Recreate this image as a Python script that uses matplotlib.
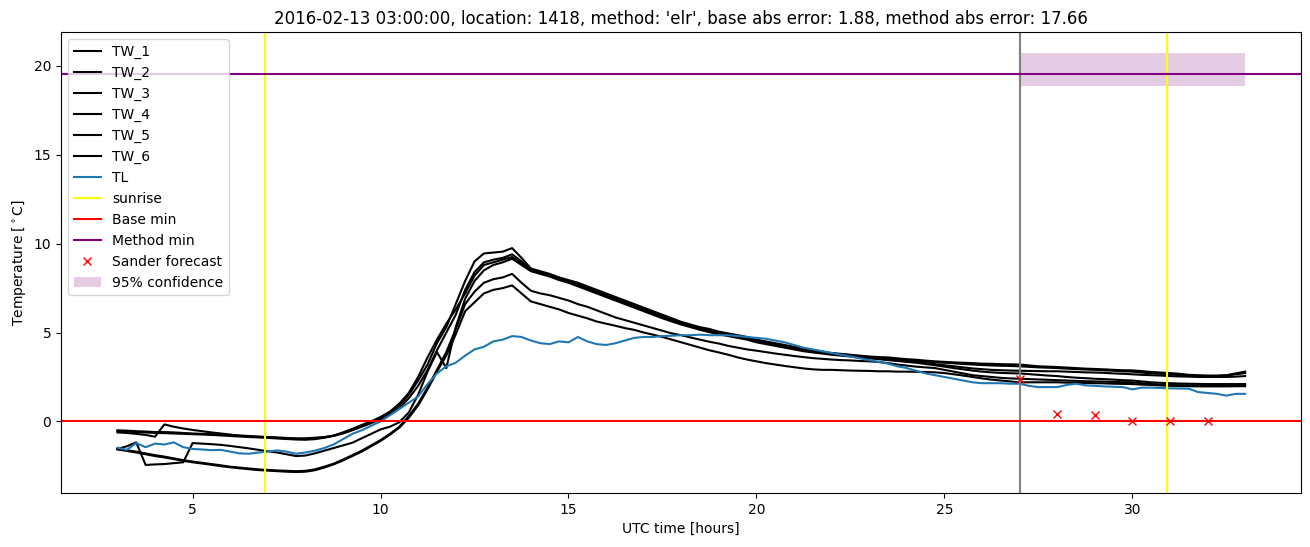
import numpy as np
import matplotlib
matplotlib.use('Agg')
import matplotlib.pyplot as plt

# time axis in hours (UTC), 15 minute steps from 03:00 to 33:00
hours = np.arange(3, 33.01, 0.25)

# wall temperatures, one row per hour (4 values each)
tw_1 = [-0.5, -0.52, -0.55, -0.57,
        -0.6, -0.6, -0.62, -0.65,
        -0.68, -0.7, -0.72, -0.74,
        -0.77, -0.8, -0.82, -0.85,
        -0.88, -0.9, -0.93, -0.95,
        -0.95, -0.92, -0.88, -0.8,
        -0.65, -0.45, -0.25, -0.05,
        0.2, 0.5, 0.9, 1.5,
        2.3, 3.2, 4.4, 5.3,
        6.6, 7.9, 9.0, 9.45,
        9.5, 9.55, 9.75, 9.2,
        8.6, 8.45, 8.3, 8.1,
        7.95, 7.8, 7.6, 7.4,
        7.2, 7.0, 6.8, 6.6,
        6.4, 6.2, 6.0, 5.8,
        5.6, 5.45, 5.3, 5.2,
        5.05, 4.95, 4.85, 4.75,
        4.6, 4.5, 4.4, 4.3,
        4.2, 4.1, 4.0, 3.9,
        3.85, 3.8, 3.75, 3.7,
        3.65, 3.62, 3.6, 3.55,
        3.5, 3.47, 3.42, 3.38,
        3.35, 3.32, 3.3, 3.28,
        3.25, 3.24, 3.22, 3.21,
        3.2, 3.15, 3.1, 3.08,
        3.06, 3.03, 3.0, 2.97,
        2.95, 2.93, 2.9, 2.88,
        2.87, 2.83, 2.78, 2.75,
        2.72, 2.68, 2.62, 2.6,
        2.58, 2.58, 2.6, 2.7,
        2.8]
tw_2 = [-0.55, -0.57, -0.6, -0.62,
        -0.65, -0.66, -0.68, -0.7,
        -0.72, -0.74, -0.76, -0.79,
        -0.82, -0.85, -0.88, -0.9,
        -0.93, -0.96, -0.99, -1.02,
        -1.03, -1.0, -0.92, -0.82,
        -0.68, -0.5, -0.3, -0.1,
        0.12, 0.4, 0.75, 1.3,
        2.0, 2.9, 4.0, 5.0,
        6.0, 7.4, 8.4, 8.95,
        9.1, 9.2, 9.4, 9.0,
        8.5, 8.4, 8.25, 8.05,
        7.9, 7.7, 7.5, 7.3,
        7.1, 6.9, 6.7, 6.5,
        6.3, 6.1, 5.9, 5.7,
        5.55, 5.4, 5.25, 5.12,
        5.0, 4.9, 4.8, 4.7,
        4.55, 4.45, 4.35, 4.25,
        4.15, 4.05, 3.95, 3.88,
        3.82, 3.77, 3.72, 3.67,
        3.62, 3.58, 3.55, 3.5,
        3.45, 3.4, 3.37, 3.33,
        3.3, 3.27, 3.23, 3.2,
        3.17, 3.15, 3.13, 3.12,
        3.1, 3.07, 3.04, 3.02,
        3.0, 2.97, 2.94, 2.92,
        2.9, 2.87, 2.85, 2.82,
        2.8, 2.75, 2.7, 2.68,
        2.65, 2.6, 2.56, 2.55,
        2.54, 2.55, 2.58, 2.65,
        2.72]
tw_3 = [-0.62, -0.65, -0.7, -0.76,
        -0.86, -0.17, -0.3, -0.4,
        -0.48, -0.55, -0.62, -0.68,
        -0.74, -0.8, -0.84, -0.88,
        -0.9, -0.93, -0.96, -0.98,
        -1.0, -0.96, -0.9, -0.8,
        -0.62, -0.42, -0.2, 0.0,
        0.25, 0.55, 1.0, 1.6,
        2.5, 3.6, 4.6, 5.5,
        6.3, 7.2, 8.2, 8.8,
        8.95, 9.1, 9.25, 8.9,
        8.5, 8.35, 8.2, 8.0,
        7.85, 7.65, 7.45, 7.25,
        7.05, 6.85, 6.65, 6.45,
        6.25, 6.05, 5.85, 5.68,
        5.5, 5.35, 5.2, 5.08,
        4.95, 4.85, 4.75, 4.65,
        4.5, 4.4, 4.3, 4.2,
        4.1, 4.0, 3.92, 3.85,
        3.78, 3.73, 3.68, 3.63,
        3.58, 3.53, 3.48, 3.43,
        3.38, 3.33, 3.28, 3.22,
        3.16, 3.1, 3.04, 2.98,
        2.94, 2.9, 2.88, 2.86,
        2.85, 2.84, 2.83, 2.82,
        2.82, 2.8, 2.78, 2.76,
        2.75, 2.73, 2.7, 2.68,
        2.65, 2.62, 2.6, 2.58,
        2.55, 2.53, 2.52, 2.5,
        2.5, 2.5, 2.5, 2.52,
        2.55]
tw_4 = [-1.55, -1.4, -1.18, -2.45,
        -2.42, -2.4, -2.35, -2.3,
        -1.22, -1.25, -1.28, -1.32,
        -1.38, -1.45, -1.52, -1.6,
        -1.68, -1.75, -1.85, -1.95,
        -1.92, -1.8, -1.65, -1.5,
        -1.35, -1.2, -0.95, -0.7,
        -0.45, -0.3, -0.05, 0.5,
        1.5, 2.8, 3.9, 3.0,
        5.3, 6.9, 7.9, 8.5,
        8.8, 8.95, 9.15, 8.8,
        8.45, 8.3, 8.15, 7.95,
        7.8, 7.6, 7.4, 7.2,
        7.0, 6.8, 6.6, 6.4,
        6.2, 6.0, 5.8, 5.62,
        5.45, 5.3, 5.15, 5.02,
        4.9, 4.8, 4.7, 4.6,
        4.45, 4.35, 4.25, 4.15,
        4.05, 3.95, 3.88, 3.82,
        3.75, 3.7, 3.65, 3.6,
        3.55, 3.5, 3.45, 3.4,
        3.35, 3.3, 3.23, 3.16,
        3.08, 3.0, 2.93, 2.86,
        2.8, 2.76, 2.73, 2.71,
        2.7, 2.66, 2.62, 2.58,
        2.55, 2.5, 2.46, 2.43,
        2.4, 2.38, 2.35, 2.32,
        2.3, 2.25, 2.2, 2.17,
        2.15, 2.13, 2.12, 2.11,
        2.1, 2.1, 2.1, 2.1,
        2.1]
tw_5 = [-1.55, -1.62, -1.7, -1.8,
        -1.9, -1.98, -2.08, -2.18,
        -2.26, -2.33, -2.4, -2.47,
        -2.55, -2.6, -2.65, -2.7,
        -2.73, -2.76, -2.78, -2.8,
        -2.78, -2.7, -2.55, -2.38,
        -2.15, -1.9, -1.65, -1.35,
        -1.05, -0.7, -0.3, 0.3,
        1.0, 1.9, 2.9, 3.9,
        5.2, 6.6, 7.3, 7.8,
        8.0, 8.1, 8.3, 7.8,
        7.35, 7.2, 7.1, 6.95,
        6.8, 6.6, 6.45, 6.25,
        6.05, 5.85, 5.7, 5.55,
        5.4, 5.25, 5.1, 4.95,
        4.85, 4.72, 4.6, 4.48,
        4.38, 4.25, 4.15, 4.05,
        3.98, 3.9, 3.82, 3.75,
        3.68, 3.62, 3.56, 3.52,
        3.48, 3.45, 3.43, 3.4,
        3.38, 3.34, 3.28, 3.2,
        3.14, 3.08, 3.04, 3.0,
        2.9, 2.8, 2.7, 2.6,
        2.55, 2.5, 2.45, 2.42,
        2.4, 2.38, 2.36, 2.34,
        2.32, 2.3, 2.28, 2.26,
        2.25, 2.24, 2.22, 2.21,
        2.2, 2.15, 2.1, 2.07,
        2.05, 2.04, 2.03, 2.03,
        2.03, 2.03, 2.04, 2.05,
        2.05]
tw_6 = [-1.58, -1.66, -1.75, -1.85,
        -1.95, -2.03, -2.12, -2.22,
        -2.3, -2.37, -2.44, -2.52,
        -2.58, -2.64, -2.69, -2.74,
        -2.77, -2.8, -2.83, -2.85,
        -2.83, -2.75, -2.6, -2.42,
        -2.2, -1.95, -1.7, -1.4,
        -1.1, -0.75, -0.35, 0.2,
        0.9, 1.8, 2.8, 3.7,
        4.9, 6.2, 6.7, 7.2,
        7.4, 7.5, 7.65, 7.2,
        6.75, 6.6, 6.45, 6.3,
        6.1, 5.95, 5.8, 5.62,
        5.5, 5.38, 5.25, 5.15,
        5.0, 4.88, 4.75, 4.6,
        4.45, 4.3, 4.15, 4.0,
        3.88, 3.75, 3.6, 3.48,
        3.38, 3.28, 3.2, 3.12,
        3.05, 2.98, 2.93, 2.9,
        2.9, 2.88, 2.86, 2.85,
        2.84, 2.82, 2.82, 2.8,
        2.8, 2.79, 2.78, 2.76,
        2.72, 2.65, 2.58, 2.5,
        2.42, 2.35, 2.3, 2.25,
        2.2, 2.2, 2.2, 2.2,
        2.2, 2.18, 2.17, 2.16,
        2.15, 2.14, 2.12, 2.11,
        2.1, 2.07, 2.05, 2.02,
        2.0, 1.99, 1.98, 1.97,
        1.97, 1.97, 1.97, 1.98,
        1.98]
# air temperature
tl = [-1.48, -1.6, -1.22, -1.45,
      -1.25, -1.3, -1.18, -1.45,
      -1.55, -1.58, -1.62, -1.6,
      -1.7, -1.8, -1.82, -1.75,
      -1.7, -1.63, -1.7, -1.82,
      -1.75, -1.65, -1.5, -1.3,
      -1.0, -0.7, -0.5, -0.25,
      0.0, 0.35, 0.7, 1.05,
      1.4, 2.1, 2.7, 3.1,
      3.3, 3.7, 4.05, 4.2,
      4.5, 4.6, 4.8, 4.75,
      4.55, 4.4, 4.35, 4.5,
      4.45, 4.75, 4.5, 4.35,
      4.3, 4.4, 4.55, 4.7,
      4.75, 4.75, 4.8, 4.82,
      4.85, 4.85, 4.88, 4.85,
      4.85, 4.85, 4.8, 4.75,
      4.7, 4.65, 4.55, 4.45,
      4.3, 4.15, 4.05, 3.95,
      3.85, 3.75, 3.65, 3.55,
      3.45, 3.35, 3.25, 3.1,
      3.0, 2.85, 2.7, 2.6,
      2.5, 2.4, 2.3, 2.2,
      2.15, 2.15, 2.15, 2.12,
      2.12, 2.0, 1.93, 1.93,
      1.93, 2.05, 2.12, 2.03,
      2.0, 1.97, 1.95, 1.93,
      1.8, 1.9, 1.9, 1.88,
      1.86, 1.85, 1.84, 1.65,
      1.6, 1.55, 1.45, 1.55,
      1.55]

sunrise_hours = [6.93, 30.93]
forecast_start = 27
base_min = 0.0
method_min = 19.55
conf_low, conf_high = 18.85, 20.73
sander_hours = [27, 28, 29, 30, 31, 32]
sander_temps = [2.4, 0.4, 0.35, 0.0, 0.0, 0.0]

fig, ax = plt.subplots(figsize=(13.1, 5.47), dpi=100)

for name, series in [('TW_1', tw_1), ('TW_2', tw_2), ('TW_3', tw_3),
                     ('TW_4', tw_4), ('TW_5', tw_5), ('TW_6', tw_6)]:
    ax.plot(hours, series, color='black', label=name)
ax.plot(hours, tl, color='C0', label='TL')

ax.axvline(sunrise_hours[0], color='yellow', label='sunrise')
ax.axvline(sunrise_hours[1], color='yellow')
ax.axvline(forecast_start, color='grey')
ax.axhline(base_min, color='red', label='Base min')
ax.axhline(method_min, color='purple', label='Method min')
ax.plot(sander_hours, sander_temps, 'x', color='red', label='Sander forecast')
ax.fill_between([forecast_start, 33], conf_low, conf_high,
                color='purple', alpha=0.2, linewidth=0, label='95% confidence')

ax.set_xlabel('UTC time [hours]')
ax.set_ylabel(r'Temperature [$^\circ$C]')
ax.set_title("2016-02-13 03:00:00, location: 1418, method: 'elr', "
             "base abs error: 1.88, method abs error: 17.66")
ax.legend(loc='upper left')

fig.subplots_adjust(left=0.0466, right=0.9935, top=0.9415, bottom=0.0987)
fig.savefig('out.png')
